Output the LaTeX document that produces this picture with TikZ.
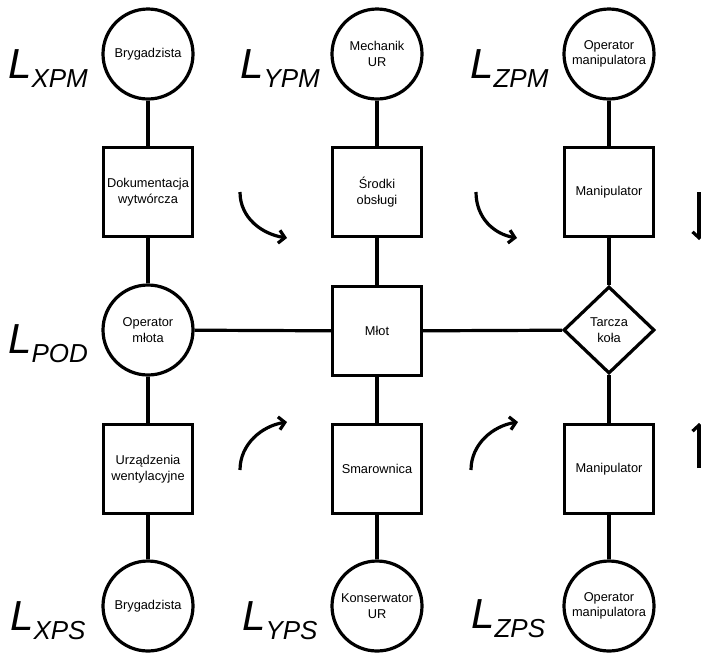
\documentclass[tikz,border=0pt]{standalone}
\usepackage{fontspec}
\setmainfont{Liberation Sans}
\usetikzlibrary{shapes.geometric,arrows.meta}
\newcommand{\sublab}[1]{L\raisebox{-9pt}{\fontsize{26}{26}\selectfont #1}}
\begin{document}
\begin{tikzpicture}[x=1pt,y=-1pt,
  lw/.style={line width=3.2pt},
  txt/.style={font=\fontsize{12.8}{15.5}\selectfont,align=center,inner sep=0pt},
  person/.style={circle,draw,lw,txt,minimum size=90pt},
  thing/.style={rectangle,draw,lw,txt,minimum size=89pt},
  hub/.style={diamond,draw,lw,txt,minimum width=91pt,minimum height=87pt},
  link/.style={lw},
  flow/.style={lw,-{Straight Barb[length=6pt,width=13pt]}},
  lab/.style={anchor=base west,inner sep=0pt,font=\fontsize{42}{42}\selectfont\itshape}
]
\clip (0,0) rectangle (701,654);
\fill[white] (0,0) rectangle (701,654);

% column 1
\node[person] (c1t) at (148,54) {Brygadzista};
\node[thing]  (b1t) at (148,192) {Dokumentacja\\wytwórcza};
\node[person] (c1m) at (148,330) {Operator\\młota};
\node[thing]  (b1b) at (148,469) {Urządzenia\\wentylacyjne};
\node[person] (c1b) at (148,606) {Brygadzista};

% column 2
\node[person] (c2t) at (377,54) {Mechanik\\UR};
\node[thing]  (b2t) at (377,192) {Środki\\obsługi};
\node[thing]  (m)   at (377,331) {Młot};
\node[thing]  (b2b) at (377,469) {Smarownica};
\node[person] (c2b) at (377,606) {Konserwator\\UR};

% column 3
\node[person] (c3t) at (609,54) {Operator\\manipulatora};
\node[thing]  (b3t) at (609,192) {Manipulator};
\node[hub]    (d)   at (609,330) {Tarcza\\koła};
\node[thing]  (b3b) at (609,469) {Manipulator};
\node[person] (c3b) at (609,606) {Operator\\manipulatora};

% connectors
\draw[link] (c1t) -- (b1t);
\draw[link] (b1t) -- (c1m);
\draw[link] (c1m) -- (b1b);
\draw[link] (b1b) -- (c1b);
\draw[link] (c2t) -- (b2t);
\draw[link] (b2t) -- (m);
\draw[link] (m) -- (b2b);
\draw[link] (b2b) -- (c2b);
\draw[link] (c3t) -- (b3t);
\draw[link] (b3t) -- (d);
\draw[link] (d) -- (b3b);
\draw[link] (b3b) -- (c3b);
\draw[link] (c1m) -- (m);
\draw[link] (m) -- (d);

% labels
\node[lab] (lxpm) at (8,78)   {\sublab{XPM}};
\node[lab] (lypm) at (240,78) {\sublab{YPM}};
\node[lab] (lzpm) at (470,78) {\sublab{ZPM}};
\node[lab] (lpod) at (8,353)  {\sublab{POD}};
\node[lab] (lxps) at (10,630) {\sublab{XPS}};
\node[lab] (lyps) at (242,630) {\sublab{YPS}};
\node[lab] (lzps) at (471,628) {\sublab{ZPS}};

% flow arrows
\coordinate (a1s) at (240,192); \coordinate (a1e) at (287,238);
\coordinate (a2s) at (476,192); \coordinate (a2e) at (517,238);
\coordinate (a3s) at (240,470); \coordinate (a3e) at (287,422);
\coordinate (a4s) at (471,470); \coordinate (a4e) at (518,422);
\coordinate (a5s) at (699,192); \coordinate (a5e) at (699,240);
\coordinate (a6s) at (699,468); \coordinate (a6e) at (699,423);
\draw[flow] (a1s) .. controls (240,218) and (262,234) .. (a1e);
\draw[flow] (a2s) .. controls (476,218) and (494,234) .. (a2e);
\draw[flow] (a3s) .. controls (240,444) and (262,426) .. (a3e);
\draw[flow] (a4s) .. controls (471,444) and (493,426) .. (a4e);
\draw[flow] (a5s) -- (a5e);
\draw[flow] (a6s) -- (a6e);
\end{tikzpicture}
\end{document}
